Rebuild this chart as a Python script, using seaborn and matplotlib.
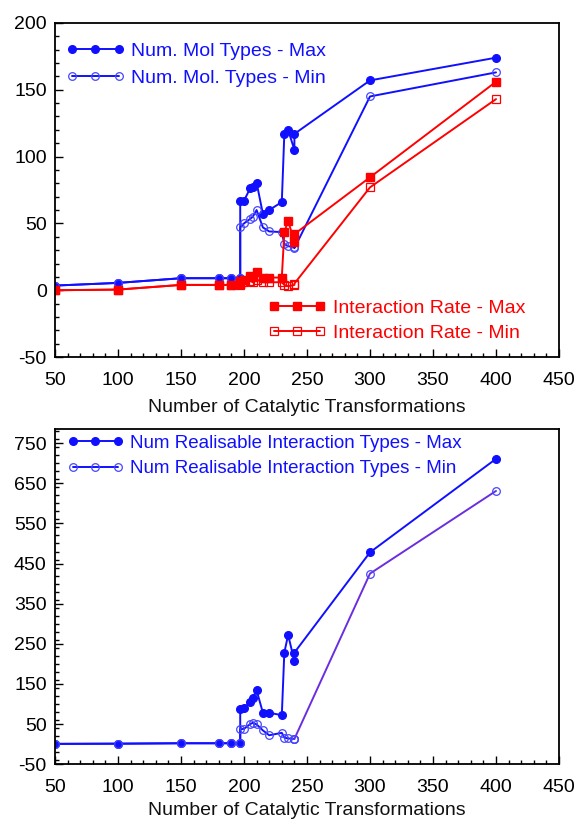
import matplotlib
matplotlib.use("Agg")
import matplotlib.pyplot as plt
import seaborn as sns
from matplotlib.ticker import MultipleLocator

# Number of catalytic transformations (shared x values of every series)
transformations = [50, 100, 150, 180, 190, 197, 197, 200, 205, 207, 210, 215,
                   220, 230, 232, 235, 240, 240, 300, 400]

# Upper panel: molecule types and interaction rate
mol_types_max = [3.5, 5.5, 9, 9, 9, 9, 66.5, 67, 76.5, 77, 80.5, 57,
                 60, 66, 117, 120, 105, 117, 157, 174]
mol_types_min = [3.5, 5.5, 9, 9, 9, 9, 47, 50, 53.5, 55, 60, 47,
                 44, 43.5, 34.5, 33, 32, 31.5, 145, 163]
rate_max = [0, 0.5, 4, 4, 4, 5, 7, 8, 11, 10, 13.5, 9,
            9.5, 9.5, 43.5, 52, 36, 42, 84.5, 156]
rate_min = [0, 0.5, 4, 4, 4, 4, 5, 6, 7, 6, 8, 6,
            6, 6, 4, 3, 4, 5, 77, 143]

# Lower panel: realisable interaction types
realisable_max = [0.5, 1, 2, 2, 2, 3, 87, 89, 106, 116, 134, 78,
                  78, 72, 228, 272, 207, 228, 478, 711]
realisable_min = [0.5, 1, 2, 2, 2, 3, 37, 38, 50, 53, 49, 34,
                  22, 28, 16, 14, 13, 13, 425, 631]

labels_top_blue = ["Num. Mol Types - Max", "Num. Mol. Types - Min"]
labels_top_red = ["Interaction Rate - Max", "Interaction Rate - Min"]
labels_bottom = ["Num Realisable Interaction Types - Max",
                 "Num Realisable Interaction Types - Min"]
x_label = "Number of Catalytic Transformations"

BLUE = "#1010ff"
BLUE_LIGHT = "#4646ff"
RED = "#ff0000"
PURPLE = "#6a2ee0"
FS = 14

sns.set_theme(style="white")
plt.rcParams["font.family"] = ["Liberation Sans", "DejaVu Sans"]
plt.rcParams["axes.unicode_minus"] = False
plt.rcParams["axes.edgecolor"] = "black"
plt.rcParams["axes.linewidth"] = 1.3

fig = plt.figure(figsize=(5.76, 8.19), dpi=100)
ax_top = fig.add_axes([0.0955, 0.564, 0.875, 0.408])
ax_bot = fig.add_axes([0.0955, 0.067, 0.875, 0.409])


def draw(ax, x, y, color, marker, filled, edge=None, lw=1.4):
    sns.lineplot(x=x, y=y, ax=ax, estimator=None, sort=False,
                 color=color, marker=marker, markersize=5.5,
                 markerfacecolor=color if filled else "none",
                 markeredgecolor=edge or color,
                 markeredgewidth=1.0 if filled else 0.9,
                 linewidth=lw)
    return ax.lines[-1]


# ---- upper panel ----
h1 = draw(ax_top, transformations, mol_types_max, BLUE, "o", True)
h2 = draw(ax_top, transformations, mol_types_min, BLUE, "o", False, edge=BLUE_LIGHT)
h3 = draw(ax_top, transformations, rate_max, RED, "s", True)
h4 = draw(ax_top, transformations, rate_min, RED, "s", False)

# ---- lower panel ----
n_dense = transformations.index(300) - 1
h5 = draw(ax_bot, transformations, realisable_max, BLUE, "o", True)
h6 = draw(ax_bot, transformations[:n_dense + 1], realisable_min[:n_dense + 1],
          BLUE, "o", False, edge=BLUE_LIGHT)
draw(ax_bot, transformations[n_dense:], realisable_min[n_dense:],
     PURPLE, "o", False, edge=BLUE_LIGHT)

leg_kw = dict(frameon=False, numpoints=3, handlelength=3.0, handletextpad=0.35,
              borderpad=0, borderaxespad=0)

leg1 = ax_top.legend([h1, h2], labels_top_blue, loc="upper left",
                     bbox_to_anchor=(0.022, 0.942), labelcolor=BLUE,
                     fontsize=FS, labelspacing=0.47, **leg_kw)
ax_top.add_artist(leg1)
ax_top.legend([h3, h4], labels_top_red, loc="upper left",
              bbox_to_anchor=(0.4226, 0.174), labelcolor=RED,
              fontsize=FS, labelspacing=0.4, **leg_kw)
ax_bot.legend([h5, h6], labels_bottom, loc="upper left",
              bbox_to_anchor=(0.024, 0.984), labelcolor=BLUE,
              fontsize=13.5, labelspacing=0.45, **leg_kw)

for ax, (ylo, yhi), yminor, lpad in [(ax_top, (-50, 200), 10, 7),
                                     (ax_bot, (-50, 785), 20, 4)]:
    ax.set_xlim(50, 450)
    ax.set_ylim(ylo, yhi)
    ax.xaxis.set_major_locator(MultipleLocator(50))
    ax.xaxis.set_minor_locator(MultipleLocator(10))
    if ax is ax_bot:
        ax.set_yticks(list(range(-50, 751, 100)))
    else:
        ax.yaxis.set_major_locator(MultipleLocator(50))
    ax.yaxis.set_minor_locator(MultipleLocator(yminor))
    ax.tick_params(which="both", direction="in", bottom=True, left=True,
                   top=False, right=False, colors="black",
                   labelsize=FS, width=1.0)
    ax.tick_params(which="major", length=6)
    ax.tick_params(which="minor", length=3)
    ax.tick_params(axis="x", pad=11)
    ax.tick_params(axis="y", pad=6)
    ax.set_xlabel(x_label, fontsize=FS, labelpad=lpad, color="#111111")
    ax.set_ylabel("")
    for sp in ax.spines.values():
        sp.set_visible(True)
        sp.set_color("black")
        sp.set_linewidth(1.3)

fig.savefig("out.png", dpi=100, facecolor="white")
